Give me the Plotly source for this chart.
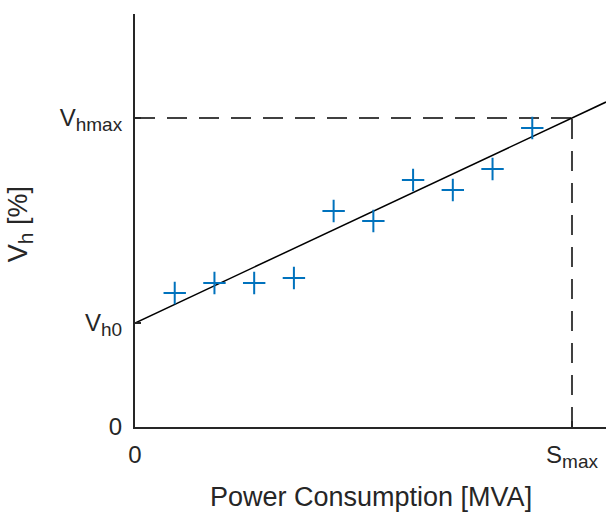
import plotly.graph_objects as go

# Data (arbitrary units)
s_points = [1, 2, 3, 4, 5, 6, 7, 8, 9, 10]
v_points = [1.34, 1.44, 1.44, 1.49, 2.16, 2.06, 2.47, 2.37, 2.58, 2.99]
v_h0 = 1.04
v_hmax = 3.09
s_max = 11
x_range_max = 11.856
y_range_max = 4.13


def sub(main, s, size):
    return f"{main}<sub><span style='font-size:{size}px'>{s}</span></sub>"


y_tick_vals = [0, v_h0, v_hmax]
y_tick_text = ["0", sub("V", "h0", 19), sub("V", "hmax", 19)]
x_tick_vals = [0, s_max]
x_tick_text = ["0", sub("S", "max", 19)]

slope = (v_hmax - v_h0) / s_max
fit_x = [0, x_range_max]
fit_y = [v_h0, v_h0 + slope * x_range_max]

font_family = "Liberation Sans, Arial, sans-serif"
axis_color = "#262626"

fig = go.Figure()
fig.add_trace(go.Scatter(x=[0, s_max], y=[v_hmax, v_hmax], mode="lines",
                         line=dict(color="#404040", width=2, dash="20px,12px"),
                         hoverinfo="skip", showlegend=False))
fig.add_trace(go.Scatter(x=[s_max, s_max], y=[0, v_hmax], mode="lines",
                         line=dict(color="#404040", width=2, dash="20px,12px"),
                         hoverinfo="skip", showlegend=False))
fig.add_trace(go.Scatter(x=fit_x, y=fit_y, mode="lines",
                         line=dict(color="black", width=1.5),
                         showlegend=False))
fig.add_trace(go.Scatter(x=s_points, y=v_points, mode="markers",
                         marker=dict(symbol="cross-thin", size=16,
                                     line=dict(color="#0072BD", width=2)),
                         showlegend=False))

fig.update_layout(
    width=606, height=515,
    margin=dict(l=135, r=0, t=14, b=88),
    plot_bgcolor="white", paper_bgcolor="white",
    font=dict(family=font_family, size=24, color=axis_color),
    xaxis=dict(range=[0, x_range_max], showgrid=False, zeroline=False,
               showline=True, linecolor=axis_color, linewidth=2,
               tickmode="array", tickvals=x_tick_vals, ticktext=x_tick_text,
               ticks="inside", ticklen=6, tickwidth=1.5, tickcolor=axis_color,
               ticklabelstandoff=5),
    yaxis=dict(range=[0, y_range_max], showgrid=False, zeroline=False,
               showline=True, linecolor=axis_color, linewidth=2,
               tickmode="array", tickvals=y_tick_vals, ticktext=y_tick_text,
               ticks="inside", ticklen=6, tickwidth=1.5, tickcolor=axis_color,
               ticklabelstandoff=6),
    annotations=[
        dict(text="Power Consumption [MVA]", xref="paper", yref="paper",
             x=0.5, y=-0.17, xanchor="center", yanchor="middle",
             showarrow=False, font=dict(size=27, color=axis_color)),
        dict(text=sub("V", "h", 21) + " [%]", xref="paper", yref="paper",
             x=-0.245, y=0.49, xanchor="center", yanchor="middle",
             textangle=-90, showarrow=False,
             font=dict(size=27, color=axis_color)),
    ],
)

fig.write_html("out.html")
